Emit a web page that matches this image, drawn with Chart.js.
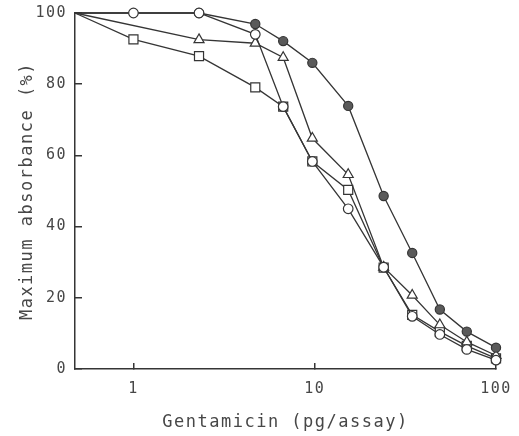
<!DOCTYPE html>
<html>
<head>
<meta charset="utf-8">
<script src="https://cdn.jsdelivr.net/npm/chart.js@4.4.0/dist/chart.umd.min.js"></script>
<style>
  html, body { margin: 0; padding: 0; background: #fff; }
  #wrap { width: 519px; height: 436px; }
</style>
</head>
<body>
<div id="wrap"><canvas id="myChart"></canvas></div>
<script>
// gentamicin dose (pg/assay), first entry is the zero dose drawn at the axis edge
const doses = [0.476, 1, 2.3, 4.7, 6.7, 9.7, 15.3, 24, 34.5, 49, 69, 100];
const openCircles = [100, 100, 100, 94, 73.7, 58.3, 45, 28.6, 14.8, 9.7, 5.5, 2.5];
const filledCircles = [100, null, 100, 96.9, 92.1, 86, 73.9, 48.6, 32.6, 16.7, 10.5, 6];
const triangles = [100, null, 92.5, 91.5, 87.5, 64.8, 54.6, 28.6, 20.7, 12.4, 7.6, 3.8];
const squares = [100, 92.6, 87.9, 79.1, 73.7, 58.3, 50.3, 28.5, 15.2, 10.5, 6.5, 3];
const xTicks = [1, 10, 100];
const yTicks = [0, 20, 40, 60, 80, 100];

const ink = '#353535';
const textInk = '#474747';
const mono = "'DejaVu Sans Mono', 'Liberation Mono', monospace";

function toPoints(values) {
    return doses.map((x, i) => ({ x: x, y: values[i] }));
}

function series(label, values, style, radius, fill) {
    return {
        label: label,
        data: toPoints(values),
        borderColor: ink,
        borderWidth: 1.3,
        pointStyle: style,
        pointBackgroundColor: fill,
        pointBorderColor: ink,
        pointBorderWidth: 1.2,
        // no marker on the zero-dose start point
        pointRadius: ctx => ctx.dataIndex === 0 ? 0 : radius,
        spanGaps: true,
        clip: false,
        tension: 0,
    };
}

// wide typewriter-like spacing of the original lettering
const spacing = {
    id: 'spacing',
    beforeUpdate(chart) { chart.ctx.letterSpacing = '1.5px'; },
    beforeDraw(chart) { chart.ctx.letterSpacing = '1.5px'; },
};

const ctx = document.getElementById('myChart').getContext('2d');
const chart = new Chart(ctx, {
    type: 'line',
    data: {
        datasets: [
            series('open circles', openCircles, 'circle', 4.8, '#ffffff'),
            series('filled circles', filledCircles, 'circle', 4.6, '#5a5a5a'),
            series('triangles', triangles, 'triangle', 5.8, '#ffffff'),
            series('squares', squares, 'rect', 6.4, '#ffffff'),
        ],
    },
    options: {
        responsive: true,
        maintainAspectRatio: false,
        animation: false,
        layout: { padding: { top: 13, right: 23, left: 0, bottom: 0 } },
        plugins: {
            legend: { display: false },
            tooltip: { enabled: false },
        },
        scales: {
            x: {
                type: 'logarithmic',
                min: 0.476,
                max: 100,
                afterBuildTicks: s => { s.ticks = xTicks.map(v => ({ value: v })); },
                afterFit: s => {
                    s.height = 67;
                    s.paddingLeft = 0;
                    s.paddingRight = 0;
                },
                border: { color: ink, width: 1.5 },
                grid: { drawOnChartArea: false, tickLength: -6, color: ink, lineWidth: 1.5 },
                ticks: {
                    callback: v => String(v),
                    padding: 17,
                    color: textInk,
                    font: { family: mono, size: 15 },
                    maxRotation: 0,
                    autoSkip: false,
                },
                title: {
                    display: true,
                    text: 'Gentamicin (pg/assay)',
                    color: textInk,
                    font: { family: mono, size: 17 },
                    padding: { top: 0, bottom: 3 },
                },
            },
            y: {
                min: 0,
                max: 100,
                afterBuildTicks: s => { s.ticks = yTicks.map(v => ({ value: v })); },
                afterFit: s => {
                    s.width = 75;
                    s.paddingTop = 0;
                    s.paddingBottom = 0;
                },
                border: { color: ink, width: 1.5 },
                grid: { drawOnChartArea: false, tickLength: -7, color: ink, lineWidth: 1.5 },
                ticks: {
                    padding: 15,
                    color: textInk,
                    font: { family: mono, size: 15 },
                },
                title: {
                    display: true,
                    text: 'Maximum absorbance (%)',
                    color: textInk,
                    font: { family: mono, size: 17 },
                    padding: { top: 17, bottom: 0 },
                },
            },
        },
    },
    plugins: [spacing],
});
</script>
</body>
</html>
